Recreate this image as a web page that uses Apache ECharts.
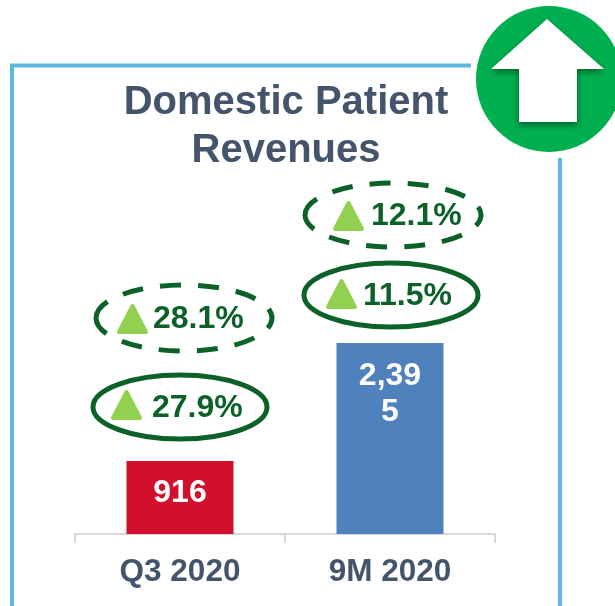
<!DOCTYPE html>
<html><head><meta charset="utf-8">
<style>html,body{margin:0;padding:0;background:#fff}#c{width:615px;height:606px}</style>
<script src="https://cdn.jsdelivr.net/npm/echarts@6/dist/echarts.min.js"></script>
</head><body><div id="c"></div>
<script>
const categories = ['Q3 2020', '9M 2020'];
const revenues = [916, 2395];
const barColors = ['#d2102e', '#4f81bd'];
const solidLabels = ['27.9%', '11.5%'];
const dashedLabels = ['28.1%', '12.1%'];
const titleText = 'Domestic Patient\nRevenues';

const GREEN = '#0b6128', SLATE = '#44546a', BLUE = '#5cb8dd', FONT = '"Liberation Sans", Arial, sans-serif';

function badge(text, cx, cy, rx, ry, dashed, triX, triY, textX) {
  return [
    { type: 'ellipse', z: 10, shape: { cx, cy, rx, ry },
      style: { fill: 'transparent', stroke: GREEN, lineWidth: 5, lineDash: dashed ? [21, 17] : null } },
    { type: 'polygon', z: 11, shape: { points: [[triX + 15.5, triY + 2], [triX + 2, triY + 28], [triX + 29, triY + 28]] },
      style: { fill: '#92d050', stroke: '#92d050', lineWidth: 4, lineJoin: 'round' } },
    { type: 'text', z: 11, x: textX, y: cy + 1.5, style: { text, fill: GREEN, font: 'bold 32px ' + FONT, textAlign: 'left', textVerticalAlign: 'middle' } }
  ];
}

const frame = [
  { type: 'polyline', z: 5, shape: { points: [[12, 606], [12, 65.5], [471, 65.5]] }, style: { fill: 'none', stroke: BLUE, lineWidth: 4 } },
  { type: 'line', z: 5, shape: { x1: 560, y1: 158, x2: 560, y2: 606 }, style: { stroke: BLUE, lineWidth: 4 } }
];
const upArrow = [
  { type: 'circle', z: 6, shape: { cx: 549, cy: 79, r: 73 }, style: { fill: '#00b050' } },
  { type: 'polygon', z: 7, shape: { points: [[547, 19], [604, 69], [577, 69], [577, 122], [519, 122], [519, 69], [491, 69]] },
    style: { fill: '#fff', shadowColor: 'rgba(0,70,30,0.75)', shadowBlur: 6, shadowOffsetY: 3 } }
];
const badges = [
  ...badge(dashedLabels[0], 184, 318, 88, 33, true, 117, 304, 153),
  ...badge(solidLabels[0], 180, 407, 87, 32, false, 111, 390, 152),
  ...badge(dashedLabels[1], 393, 215, 88, 32, true, 333, 201, 371),
  ...badge(solidLabels[1], 391, 295, 87, 32, false, 326, 279, 363)
];

const chart = echarts.init(document.getElementById('c'), null, { renderer: 'canvas' });
chart.setOption({
  animation: false,
  backgroundColor: '#fff',
  title: { text: titleText, left: 281, top: 74, textAlign: 'center',
    textStyle: { color: SLATE, fontFamily: FONT, fontWeight: 'bold', fontSize: 40, lineHeight: 48 } },
  grid: { left: 75, right: 120, top: 34, bottom: 72 },
  xAxis: { type: 'category', data: categories,
    axisLine: { lineStyle: { color: '#d9d9d9', width: 2 } },
    axisTick: { show: true, length: 9, lineStyle: { color: '#d9d9d9', width: 2 } },
    axisLabel: { color: SLATE, fontFamily: FONT, fontWeight: 'bold', fontSize: 31.5, margin: 22 } },
  yAxis: { type: 'value', min: 0, max: 6270, show: false },
  series: [{
    type: 'bar', barWidth: 107,
    data: revenues.map((v, i) => ({ value: v, itemStyle: { color: barColors[i] },
      label: i === 0 ? { position: 'inside', offset: [0, -4] } : { position: 'insideTop', distance: 15 } })),
    label: { show: true, color: '#fff', fontFamily: FONT, fontWeight: 'bold', fontSize: 32, lineHeight: 36,
      width: 76, overflow: 'breakAll', align: 'center',
      formatter: p => p.value.toLocaleString('en-US') }
  }],
  graphic: { elements: [...frame, ...upArrow, ...badges] }
});
</script></body></html>
